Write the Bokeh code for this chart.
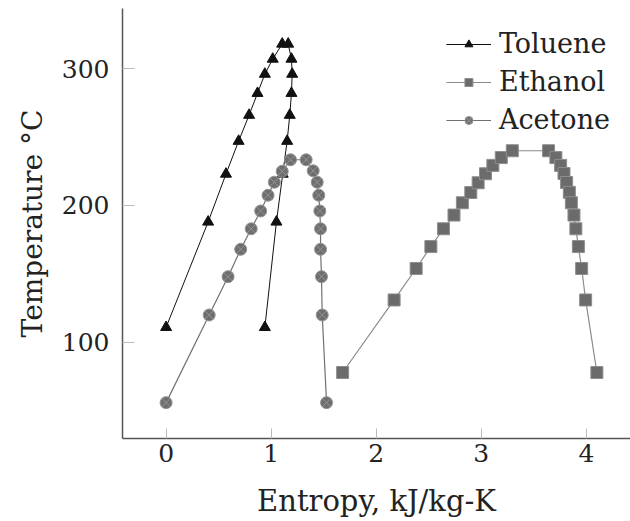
from bokeh.plotting import figure
from bokeh.models import Range1d, FixedTicker
from bokeh.embed import file_html
from bokeh.resources import INLINE

# ---- data ----
toluene_s = [0.0, 0.40, 0.57, 0.69, 0.79, 0.87, 0.94, 1.015, 1.105,
             1.162, 1.193, 1.20, 1.193, 1.177, 1.152, 1.11, 1.05, 0.94]
toluene_t = [111, 188, 223, 247, 266, 282, 296, 307, 318,
             318, 307, 296, 282, 266, 247, 223, 188, 111]

ethanol_s = [1.68, 2.17, 2.38, 2.52, 2.64, 2.74, 2.82, 2.90, 2.97, 3.04, 3.11, 3.19, 3.295,
             3.64, 3.71, 3.755, 3.787, 3.812, 3.838, 3.857, 3.882, 3.90, 3.924, 3.955, 3.993, 4.10]
ethanol_t = [78, 131, 154, 170, 183, 193, 202, 209.5, 216.6, 223.2, 229.3, 235, 240,
             240, 235, 229.3, 223.4, 216.8, 209.6, 202, 193, 183, 170, 154, 131, 78]

acetone_s = [0.0, 0.41, 0.59, 0.71, 0.81, 0.90, 0.97, 1.03, 1.105, 1.184,
             1.333, 1.40, 1.438, 1.453, 1.463, 1.47, 1.47, 1.479, 1.486, 1.527]
acetone_t = [56, 120, 148, 168, 183, 196, 207.5, 217, 225, 233.4,
             233.4, 225.3, 217, 207.5, 196, 183, 168, 148, 120, 56]

x_ticks = [0, 1, 2, 3, 4]
y_ticks = [100, 200, 300]

FONT = "DejaVu Serif"

p = figure(width=630, height=521, output_backend="svg", toolbar_location=None,
           x_range=Range1d(-0.415, 4.42), y_range=Range1d(29.8, 343.9),
           min_border_left=122, min_border_right=0, min_border_top=8, min_border_bottom=83)

p.outline_line_color = None
p.xgrid.visible = False
p.ygrid.visible = False
p.background_fill_color = "white"
p.border_fill_color = "white"

# Toluene
p.line(toluene_s, toluene_t, line_color="#111111", line_width=1, legend_label="Toluene")
p.scatter(toluene_s, toluene_t, marker="triangle", size=11, fill_color="#111111",
          line_color="#111111", legend_label="Toluene")

# Ethanol
p.line(ethanol_s, ethanol_t, line_color="#8a8a8a", line_width=1.2, legend_label="Ethanol")
p.scatter(ethanol_s, ethanol_t, marker="square", size=12, fill_color="#6b6b6b",
          line_color="#8e8e8e", line_width=1, legend_label="Ethanol")

# Acetone
p.line(acetone_s, acetone_t, line_color="#707070", line_width=1.2, legend_label="Acetone")
p.scatter(acetone_s, acetone_t, marker="circle_x", size=12, fill_color="#6e6e6e",
          line_color="#959595", line_width=1, legend_label="Acetone")

# axes
for ax in (p.xaxis[0], p.yaxis[0]):
    ax.axis_line_color = "#555555"
    ax.axis_line_width = 1.5
    ax.major_tick_line_color = "#bbbbbb"
    ax.major_tick_line_width = 1
    ax.major_tick_out = 0
    ax.minor_tick_line_color = None
    ax.major_label_text_font = FONT
    ax.major_label_text_font_size = "25px"
    ax.major_label_text_color = "#222222"
    ax.axis_label_text_font = FONT
    ax.axis_label_text_font_style = "normal"
    ax.axis_label_text_color = "#222222"

p.xaxis.axis_label_text_font_size = "29px"
p.yaxis.axis_label_text_font_size = "28px"
p.xaxis.ticker = FixedTicker(ticks=x_ticks)
p.yaxis.ticker = FixedTicker(ticks=y_ticks)
p.xaxis.major_tick_in = 10
p.yaxis.major_tick_in = 12
p.xaxis.major_label_standoff = 5
p.yaxis.major_label_standoff = 13
p.xaxis.axis_label = "Entropy, kJ/kg-K"
p.yaxis.axis_label = "Temperature °C"
p.xaxis.axis_label_standoff = 19
p.yaxis.axis_label_standoff = 10

# legend
lg = p.legend[0]
lg.location = "top_right"
lg.border_line_color = None
lg.background_fill_alpha = 0
lg.label_text_font = FONT
lg.label_text_font_size = "27px"
lg.label_text_color = "#222222"
lg.glyph_width = 45
lg.glyph_height = 20
lg.label_standoff = 8
lg.padding = 20
lg.spacing = 7
lg.margin = 20

open("out.html", "w").write(file_html(p, INLINE))
